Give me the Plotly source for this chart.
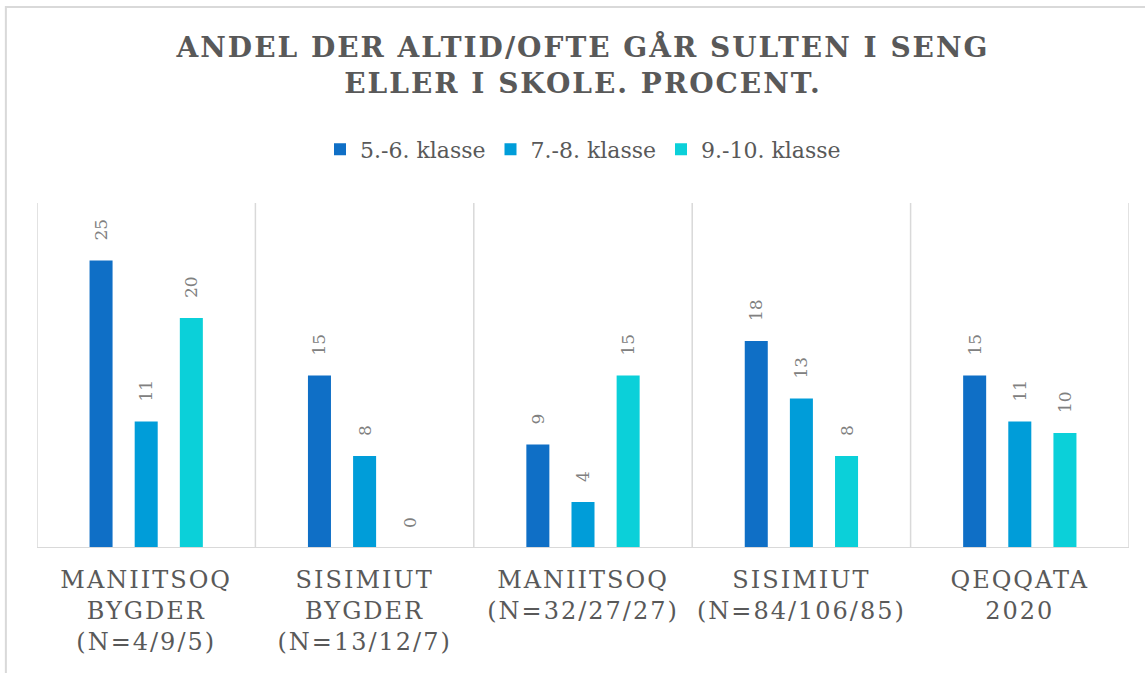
import plotly.graph_objects as go

categories = [
    "MANIITSOQ<br>BYGDER<br>(N=4/9/5)",
    "SISIMIUT<br>BYGDER<br>(N=13/12/7)",
    "MANIITSOQ<br>(N=32/27/27)",
    "SISIMIUT<br>(N=84/106/85)",
    "QEQQATA<br>2020",
]
series_names = ["5.-6. klasse", "7.-8. klasse", "9.-10. klasse"]
values_56 = [25, 15, 9, 18, 15]
values_78 = [11, 8, 4, 13, 11]
values_910 = [20, 0, 15, 8, 10]
title_text = "ANDEL DER ALTID/OFTE GÅR SULTEN I SENG<br>ELLER I SKOLE. PROCENT."

colors = ["#0F6FC6", "#009DD9", "#0BD0D9"]
FONT = "DejaVu Serif"

fig = go.Figure()
for name, vals, col in zip(series_names, [values_56, values_78, values_910], colors):
    fig.add_trace(go.Bar(
        x=categories, y=vals, name=name,
        marker=dict(color=col, line=dict(width=0)),
        text=vals, texttemplate="\u2003%{y}", textposition="outside",
        textangle=-90, constraintext="none", cliponaxis=False,
        textfont=dict(family=FONT, size=17, color="#808080"),
    ))

shapes = []
for i in range(len(categories) + 1):
    shapes.append(dict(type="line", xref="x", yref="paper", x0=i - 0.5, x1=i - 0.5,
                       y0=0, y1=1, line=dict(color="#d9d9d9", width=1.5), layer="below"))
shapes.append(dict(type="line", xref="paper", yref="y", x0=0, x1=1, y0=0, y1=0,
                   line=dict(color="#d9d9d9", width=2)))
# outer chart frame
shapes.append(dict(type="rect", xref="paper", yref="paper", x0=-0.0285, x1=1.02,
                   y0=-0.4, y1=1.568, line=dict(color="#d9d9d9", width=2)))

fig.update_layout(
    width=1145, height=673,
    margin=dict(l=37, r=16, t=203, b=125),
    paper_bgcolor="white", plot_bgcolor="white",
    barmode="group", bargap=0.38, bargroupgap=0.49,
    title=dict(text=title_text, x=0.5, xref="paper", xanchor="center",
               y=1 - 57 / 673, yref="container", yanchor="top",
               font=dict(family=FONT, size=28, color="#595959", weight="bold")),
    legend=dict(orientation="h", x=0.5, xanchor="center", y=1.155, yanchor="middle",
                font=dict(family=FONT, size=22, color="#595959"),
                itemwidth=30, traceorder="normal"),
    xaxis=dict(type="category", range=[-0.5, len(categories) - 0.5], showgrid=False,
               showline=False, ticks="", ticklabelstandoff=15,
               tickfont=dict(family=FONT, size=24, color="#595959")),
    yaxis=dict(range=[0, 30], visible=False, showgrid=False, zeroline=False),
    shapes=shapes,
    showlegend=True,
)

post_script = """
document.body.style.margin = '0';
var gd = document.getElementById('{plot_id}');
function spacing() {
  document.querySelectorAll('.gtitle').forEach(function (e) { e.style.letterSpacing = '2px'; });
  document.querySelectorAll('.xtick text').forEach(function (e) { e.style.letterSpacing = '2px'; });
}
spacing();
if (gd && gd.on) { gd.on('plotly_afterplot', spacing); }
"""

fig.write_html("out.html", post_script=post_script, config={"displayModeBar": False})
